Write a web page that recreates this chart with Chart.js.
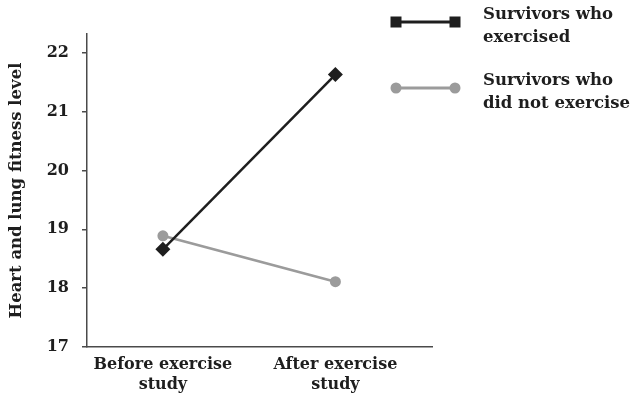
<!DOCTYPE html>
<html>
<head>
<meta charset="utf-8">
<script src="https://cdn.jsdelivr.net/npm/chart.js@4"></script>
<style>
    html, body { margin: 0; padding: 0; background: #ffffff; }
    #wrap { position: relative; width: 635px; height: 399px; }
</style>
</head>
<body>
<div id="wrap"><canvas id="fitnessGraph" width="635" height="399"></canvas></div>
<script>
var phaseLabels = [["Before exercise", "study"], ["After exercise", "study"]];
var exercisedValues = [18.66, 21.63];
var notExercisedValues = [18.89, 18.11];
var seriesNames = [["Survivors who", "exercised"], ["Survivors who", "did not exercise"]];
var yTicks = [17, 18, 19, 20, 21, 22];

var serifFont = "'DejaVu Serif', 'Liberation Serif', serif";
var darkColor = "#1e1e1e";
var greyColor = "#9b9b9b";
var axisColor = "#4a4a4a";

// legend with a line and a marker at each end, drawn to the right of the plot
var sideLegend = {
    id: "sideLegend",
    afterDraw: function (chart) {
        var ctx = chart.ctx;
        var x0 = chart.chartArea.right - 36;
        var x1 = x0 + 59;
        var rows = [
            { y: 22, color: darkColor, marker: "square", names: seriesNames[0] },
            { y: 88, color: greyColor, marker: "circle", names: seriesNames[1] },
        ];
        ctx.save();
        for (row of rows) {
            ctx.strokeStyle = row.color;
            ctx.fillStyle = row.color;
            ctx.lineWidth = 3;
            ctx.beginPath();
            ctx.moveTo(x0, row.y);
            ctx.lineTo(x1, row.y);
            ctx.stroke();
            for (px of [x0, x1]) {
                if (row.marker == "square") {
                    ctx.fillRect(px - 5.5, row.y - 5.5, 11, 11);
                } else {
                    ctx.beginPath();
                    ctx.arc(px, row.y, 5.5, 0, Math.PI * 2);
                    ctx.fill();
                }
            }
            ctx.fillStyle = darkColor;
            ctx.font = "bold 16.5px " + serifFont;
            ctx.textBaseline = "middle";
            ctx.textAlign = "left";
            ctx.fillText(row.names[0], x1 + 28, row.y - 7);
            ctx.fillText(row.names[1], x1 + 28, row.y + 16);
        }
        ctx.restore();
    },
};

var config = {
    type: "line",
    data: {
        datasets: [
            {
                label: seriesNames[0].join(" "),
                data: exercisedValues.map(function (v, i) { return { x: i, y: v }; }),
                borderColor: darkColor,
                backgroundColor: darkColor,
                borderWidth: 2.5,
                pointStyle: "rectRot",
                pointRadius: 7.5,
                pointBorderWidth: 0,
                pointHoverRadius: 7.5,
            },
            {
                label: seriesNames[1].join(" "),
                data: notExercisedValues.map(function (v, i) { return { x: i, y: v }; }),
                borderColor: greyColor,
                backgroundColor: greyColor,
                borderWidth: 2.5,
                pointStyle: "circle",
                pointRadius: 5.5,
                pointBorderWidth: 0,
                pointHoverRadius: 5.5,
            },
        ],
    },
    options: {
        responsive: false,
        animation: false,
        layout: { padding: { top: 34, right: 203, left: 0, bottom: 0 } },
        plugins: {
            legend: { display: false },
            tooltip: { enabled: false },
        },
        scales: {
            x: {
                type: "linear",
                min: -0.44,
                max: 1.56,
                afterBuildTicks: function (scale) {
                    scale.ticks = phaseLabels.map(function (l, i) { return { value: i }; });
                },
                afterFit: function (scale) {
                    scale.height = 52;
                },
                ticks: {
                    autoSkip: false,
                    maxRotation: 0,
                    padding: 8,
                    color: darkColor,
                    font: { family: serifFont, size: 16, weight: "bold", lineHeight: 1.25 },
                    callback: function (value) {
                        return phaseLabels[value];
                    },
                },
                grid: { display: true, drawOnChartArea: false, drawTicks: false },
                border: { display: true, color: axisColor, width: 1.5 },
            },
            y: {
                min: 17,
                max: 22.32,
                afterBuildTicks: function (scale) {
                    scale.ticks = yTicks.map(function (v) { return { value: v }; });
                },
                afterFit: function (scale) {
                    scale.width = 87;
                },
                ticks: {
                    padding: 13,
                    color: darkColor,
                    font: { family: serifFont, size: 16, weight: "bold" },
                },
                grid: { drawOnChartArea: false, drawTicks: true, tickLength: 5, color: axisColor, lineWidth: 1.5 },
                border: { display: true, color: axisColor, width: 1.5 },
                title: {
                    display: true,
                    text: "Heart and lung fitness level",
                    color: darkColor,
                    padding: { top: 7, bottom: 4 },
                    font: { family: serifFont, size: 16.5, weight: "bold" },
                },
            },
        },
    },
    plugins: [sideLegend],
};

var fitnessGraph = new Chart("fitnessGraph", config);
</script>
</body>
</html>
